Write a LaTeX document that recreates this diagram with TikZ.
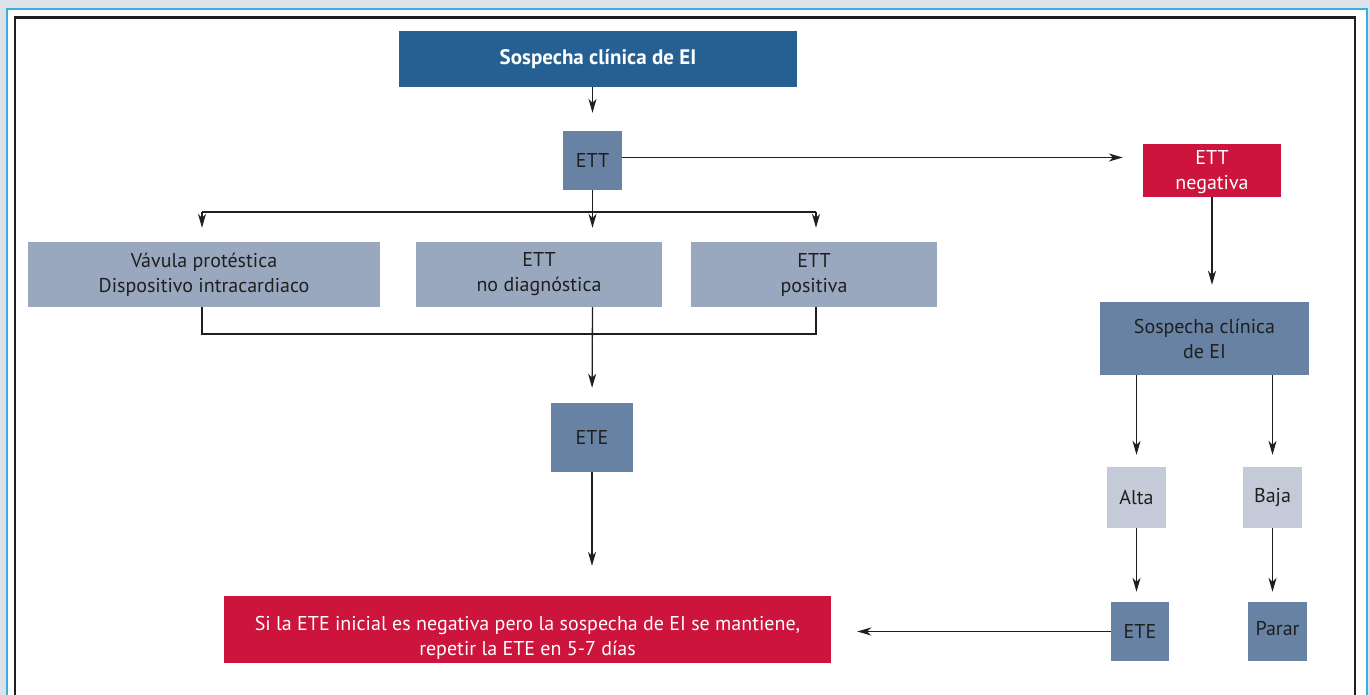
\documentclass[tikz,border=0pt]{standalone}
\usepackage{fontspec}
\setmainfont{PT Sans}
\usetikzlibrary{arrows.meta}
\definecolor{deepblue}{RGB}{38,96,146}
\definecolor{midblue}{RGB}{104,130,163}
\definecolor{paleblue}{RGB}{154,168,191}
\definecolor{greyblue}{RGB}{197,202,216}
\definecolor{alert}{RGB}{204,20,60}
\definecolor{frameblue}{RGB}{58,174,224}
\definecolor{backdrop}{RGB}{221,225,232}
\colorlet{ink}{black!88}
\newcommand\lowered[2]{\raisebox{-#1}[\height][\depth]{#2}}

\begin{document}
\begin{tikzpicture}[
    x=1pt, y=-1pt,
    font=\fontsize{20}{25}\selectfont,
    >={Stealth[length=14pt, width=8pt, inset=4pt]},
]
    \useasboundingbox (0, 0) rectangle (1370, 695);

    % Frame
    \fill[backdrop] (0, 0) rectangle (1370, 695);
    \draw[frameblue, line width=2pt, fill=white] (7, 9) rectangle (1367, 720);
    \draw[ink, line width=2.2pt] (15, 17.5) rectangle (1355, 720);

    \tikzset{
        box/.style={
            rectangle, inner sep=0pt, align=center,
            text=ink,
        },
        dark box/.style={box, fill=midblue},
        pale box/.style={box, fill=paleblue},
        light box/.style={box, fill=greyblue},
        alert box/.style={box, fill=alert, text=white},
        arr/.style={->, ink, line width=1.3pt},
        wire/.style={ink, line width=1.3pt},
    }

    % Left branch
    \node[box, fill=deepblue, text=white, font=\fontsize{21}{25}\bfseries,
        minimum width=398, minimum height=56]
        (start) at (598, 59) {Sospecha clínica de EI};

    \node[dark box, minimum width=59, minimum height=59]
        (ett) at (592.5, 160.5) {ETT};

    \node[pale box, minimum width=352, minimum height=65]
        (valve) at (204, 274.5) {Vávula protéstica\\Dispositivo intracardiaco};
    \node[pale box, minimum width=246, minimum height=65]
        (nodiag) at (539, 274.5) {ETT\\no diagnóstica};
    \node[pale box, minimum width=246, minimum height=65]
        (positive) at (814, 274.5) {ETT\\positiva};

    \node[dark box, minimum width=82, minimum height=69]
        (ete) at (592, 437.5) {ETE};

    \node[alert box, minimum width=607, minimum height=67]
        (repeat) at (527.5, 629.5)
        {\lowered{8pt}{\begin{tabular}{@{}c@{}}
            Si la ETE inicial es negativa pero la sospecha de EI se mantiene,\\
            repetir la ETE en 5-7 días
        \end{tabular}}};

    % Right branch
    \node[alert box, minimum width=138, minimum height=53]
        (ettneg) at (1212, 170.5) {\lowered{2pt}{\begin{tabular}{@{}c@{}}ETT\\negativa\end{tabular}}};

    \node[dark box, minimum width=209, minimum height=73]
        (suspect) at (1204.5, 338.5) {Sospecha clínica\\de EI};

    \node[light box, minimum width=59, minimum height=61]
        (high) at (1136.5, 497.5) {Alta};
    \node[light box, minimum width=59, minimum height=61]
        (low) at (1272.5, 497.5) {Baja};

    \node[dark box, minimum width=58, minimum height=59]
        (ete2) at (1140, 631.5) {ETE};
    \node[dark box, minimum width=59, minimum height=59]
        (stop) at (1277.5, 631.5) {\lowered{-3pt}{Parar}};

    % Connectors
    \coordinate (split) at (592.5, 212);
    \coordinate (join) at (592.5, 334);

    \draw[arr, shorten >=18pt] (start.south -| ett) -- (ett.north);
    \draw[arr, shorten >=20pt] ([yshift=3pt]ett.east) -- ([yshift=3pt]ett.east -| ettneg.west);

    \draw[wire] (ett.south) -- (split);
    \draw[wire] (split -| 202, 0) -- (split -| 816, 0);
    \draw[arr, shorten >=14pt] (split -| 202, 0) -- (valve.north -| 202, 0);
    \draw[arr, shorten >=14pt] (split) -- (valve.north -| split);
    \draw[arr, shorten >=14pt] (split -| 816, 0) -- (valve.north -| 816, 0);

    \draw[wire] (valve.south -| 202, 0) |- (join) -| (positive.south -| 816, 0);
    \draw[arr, shorten >=15pt] (nodiag.south -| join) -- (ete.north);
    \draw[arr, shorten >=30pt] (ete.south) -- (repeat.north -| ete);

    \draw[arr, shorten >=17pt] (ettneg.south) -- (suspect.north -| ettneg);
    \draw[arr, shorten >=12pt] (suspect.south -| high) -- (high.north);
    \draw[arr, shorten >=12pt] (suspect.south -| low) -- (low.north);
    \draw[arr, shorten >=10pt] (high.south) -- (ete2.north -| high);
    \draw[arr, shorten >=10pt] (low.south) -- (stop.north -| low);
    \draw[arr, shorten >=26pt] (ete2.west) -- (repeat.east |- ete2.west);
\end{tikzpicture}
\end{document}
